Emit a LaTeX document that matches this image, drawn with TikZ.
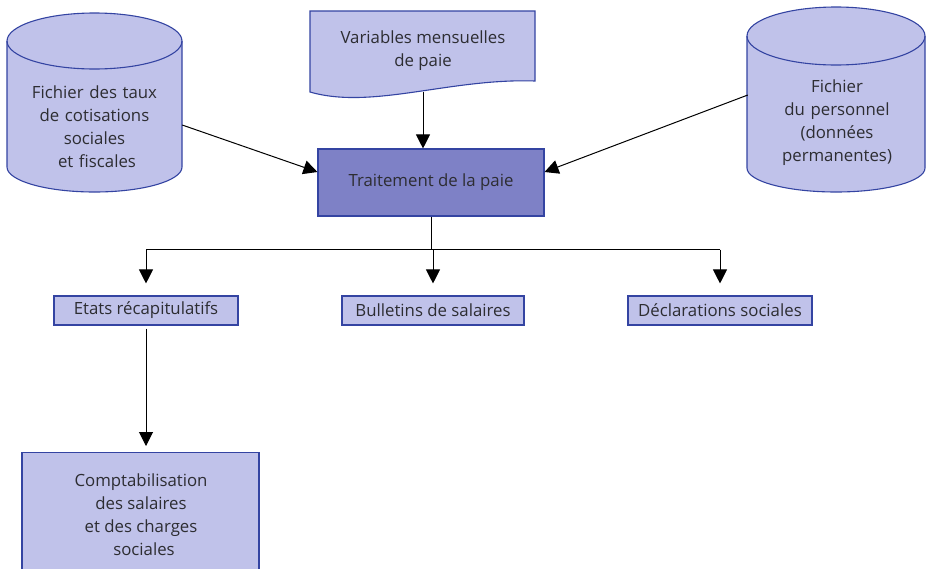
\documentclass[tikz,border=0pt]{standalone}
\usepackage{fontspec}
\setmainfont{Open Sans}
\usetikzlibrary{arrows.meta,calc}
\definecolor{boxfill}{RGB}{192,194,234}
\definecolor{boxline}{RGB}{52,68,162}
\definecolor{procfill}{RGB}{126,129,198}
\definecolor{txt}{RGB}{45,45,50}
\tikzset{
  shp/.style={fill=boxfill, draw=boxline, line width=1.1pt},
  lbl/.style={text=txt, font=\fontsize{16.8}{23}\selectfont, align=center, inner sep=0pt},
  smallbox/.style={shp, lbl, minimum height=29pt, inner xsep=0pt},
  arr/.style={-{Triangle[width=14pt,length=14pt]}, line width=1pt, black},
  ln/.style={line width=1pt, black},
}
\begin{document}
\begin{tikzpicture}[x=1pt,y=-1pt]
\useasboundingbox (0,0) rectangle (926,568);
\clip (0,0) rectangle (926,568);
\fill[white] (0,0) rectangle (926,568);

% left cylinder
\path[shp] (7,41) -- (7,167) .. controls (7,180.8) and (46.2,192) .. (94.5,192)
  .. controls (142.8,192) and (182,180.8) .. (182,167) -- (182,41)
  .. controls (182,25.5) and (142.8,13) .. (94.5,13)
  .. controls (46.2,13) and (7,25.5) .. (7,41) -- cycle;
\draw[draw=boxline, line width=1.1pt] (7,41) .. controls (7,56.5) and (46.2,69) .. (94.5,69)
  .. controls (142.8,69) and (182,56.5) .. (182,41);
\node[lbl, text width=175pt] (cylL) at (94.5,127) {Fichier des taux\\de cotisations\\sociales\\\hspace*{5pt}et fiscales};

% right cylinder
\path[shp] (747,36) -- (747,168) .. controls (747,181.3) and (786.8,192) .. (836,192)
  .. controls (885.2,192) and (925,181.3) .. (925,168) -- (925,36)
  .. controls (925,20) and (885.2,7) .. (836,7)
  .. controls (786.8,7) and (747,20) .. (747,36) -- cycle;
\draw[draw=boxline, line width=1.1pt] (747,36) .. controls (747,52) and (786.8,65) .. (836,65)
  .. controls (885.2,65) and (925,52) .. (925,36);
\node[lbl, text width=178pt] (cylR) at (837,123) {Fichier\\du personnel\\(données\\permanentes)};

% document shape
\path[shp] (310,11) -- (535,11) -- (535,81) .. controls (450,78) and (372,110) .. (310,92) -- cycle;
\node[lbl, minimum width=225pt, minimum height=82pt] (doc) at (423,51) {Variables mensuelles\\de paie};

% process box
\node[lbl, shp, fill=procfill, minimum width=226pt, minimum height=67pt] (proc) at (431,182.5) {Traitement de la paie};

% output boxes
\node[smallbox, minimum width=184pt] (etats) at (146,310.5) {Etats récapitulatifs};
\node[smallbox, minimum width=182pt] (bull) at (433,310.5) {Bulletins de salaires};
\node[smallbox, minimum width=184pt] (decl) at (720,310.5) {Déclarations sociales};

% comptabilisation box (cut by the lower edge)
\node[shp, minimum width=237pt, minimum height=150pt, anchor=north, inner sep=0pt] (compta) at (140.5,452) {};
\node[lbl] (comptaTxt) at (141,515) {Comptabilisation\\des salaires\\et des charges\\\hspace*{6pt}sociales};

% connectors
\draw[arr] ([yshift=2pt]cylL.east) -- ([yshift=10.5pt]proc.west);
\draw[arr] ([yshift=28pt]cylR.west) -- ([yshift=10.5pt]proc.east);
\draw[arr] (doc.south) -- (doc.south |- proc.north);

\draw[ln] (proc.south) -- ++(0,33) coordinate (j);
\draw[ln] (j -| etats.north) -- (j -| decl.north);
\draw[arr, shorten >=12pt] (j -| etats.north) -- (etats.north);
\draw[arr, shorten >=12pt] (j -| bull.north) -- (bull.north);
\draw[arr, shorten >=12pt] (j -| decl.north) -- (decl.north);
\draw[arr, shorten <=3pt, shorten >=6pt] (etats.south) -- (etats.south |- compta.north);
\end{tikzpicture}
\end{document}
